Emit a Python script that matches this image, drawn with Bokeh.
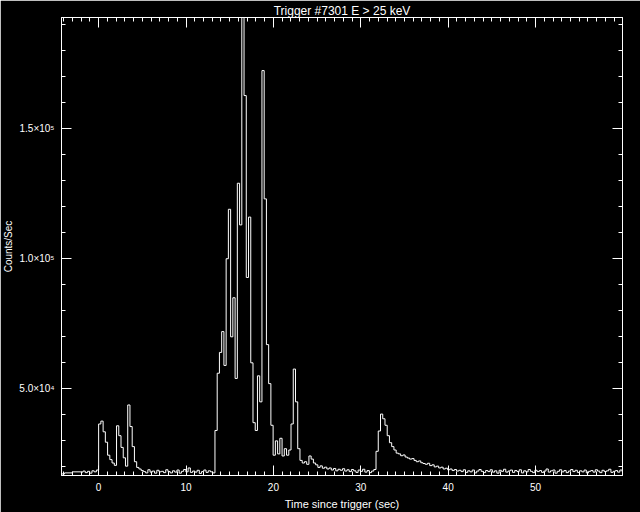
import numpy as np
from bokeh.plotting import figure
from bokeh.models import Range1d, LinearAxis, SingleIntervalTicker, CustomJSTickFormatter
from bokeh.embed import file_html
from bokeh.resources import INLINE

title_text = "Trigger #7301 E > 25 keV"
x_label = "Time since trigger (sec)"
y_label = "Counts/Sec"

# pre-trigger coarse bins (edges, counts/sec)
pre_edges = [-4.25, -3.9, -3.0, -2.048]
pre_counts = [17300, 17700, 18100]

# fine bins starting at -2.048 s, 0.256 s wide
fine_start = -2.048
bin_width = 0.256
fine_counts = [
    18000, 18400, 17800, 18300, 17600, 18500, 18100, 18800,
    36500, 37600, 33500, 29500, 24500, 22800, 21500, 20600, 35800, 32000,
    27500, 23500, 20300, 43800, 35500, 27800, 22000, 19800, 19200, 18600,
    18200, 17700, 18900, 18000, 18400, 17600, 18700, 18100, 18300, 17800,
    18900, 18200, 17700, 18500, 18000, 18800, 17600, 18300, 19000, 18100,
    19600, 17900, 18400, 18000, 18700, 17500, 18200, 18800, 17900, 18500,
    18100, 17700,
    34000, 56000, 64000, 72000, 59000, 100000, 119000, 70000, 85000, 54000,
    129000, 113000, 192700, 162700, 92800, 116000, 60000, 37000, 34000, 55000,
    45000, 172300, 123000, 67000, 52000, 36000, 24500, 30000, 25000, 31000,
    24200, 27000, 24500, 26500, 36500, 57600, 45000, 27000, 22500, 21500,
    22000, 21000, 24200, 23000, 21500, 20800, 19800, 20400, 19500, 19900,
    19200, 19600, 18800, 19400, 18500, 19100, 18700, 19300, 18400, 18900,
    18200, 19000, 18500, 17900, 18800, 18300, 19100, 18000, 18600, 17800,
    18400, 19000,
    26000, 33800, 40300, 38500, 36000, 32000, 29300, 27800, 26500, 25300,
    25000, 24300, 24600, 23800, 23400, 23000, 23200, 22500, 22000, 22300,
    21600, 21300, 21000, 21400, 20500, 20800, 20000, 20300, 19600, 19900,
    19200, 19500, 18900, 19200, 18600, 19000, 18400,
    18700, 18200, 18900, 17900, 18500, 18100, 18800, 17700, 18400, 19000,
    18300, 17800, 18600, 18200, 18900, 18000, 18500, 17600, 18700, 18300,
    19100, 18000, 18400, 18800, 17900, 18600, 18200, 18900, 17700, 18500,
    18100, 19000, 18300, 17800, 18700, 18200, 18600, 17900, 18400, 19200,
    18000, 18500, 18800, 17600, 18300, 18900, 18100, 18600, 17800, 18400,
    19000, 18200, 18700, 17900, 18500, 18100, 18800, 17700, 18300, 18600,
    18000, 18900, 18400, 17800, 18700, 18200, 18500, 19100, 17900, 18300,
    18600, 18000, 18800, 18200,
]

x_range = (-4.25, 59.95)
y_range = (16700, 192700)
y_tick_values = [50000, 100000, 150000]
y_tick_labels = ["5.0×10⁴", "1.0×10⁵", "1.5×10⁵"]

fine_edges = fine_start + bin_width * np.arange(len(fine_counts) + 1)
xs = list(pre_edges[:-1]) + list(fine_edges)
ys = list(pre_counts) + list(fine_counts) + [fine_counts[-1]]

FONT = "Liberation Sans"
WHITE = "white"

p = figure(width=640, height=512, output_backend="svg", toolbar_location=None,
           x_range=Range1d(*x_range), y_range=Range1d(*y_range),
           min_border_left=61, min_border_right=18, min_border_top=17, min_border_bottom=37,
           background_fill_color="black", border_fill_color="black",
           x_axis_location=None, y_axis_location=None)
p.outline_line_color = WHITE
p.outline_line_width = 1
p.xgrid.visible = False
p.ygrid.visible = False

def style_axis(ax, show_labels):
    ax.axis_line_color = WHITE
    ax.major_tick_line_color = WHITE
    ax.minor_tick_line_color = WHITE
    ax.major_tick_in = 10
    ax.major_tick_out = 0
    ax.minor_tick_in = 4
    ax.minor_tick_out = 0
    ax.major_label_text_color = WHITE
    ax.major_label_text_font = FONT
    ax.axis_label_text_color = WHITE
    ax.axis_label_text_font = FONT
    ax.axis_label_text_font_style = "normal"
    if show_labels:
        ax.major_label_text_font_size = "10px"
    else:
        ax.formatter = CustomJSTickFormatter(code="return ''")
        ax.major_label_text_font_size = "1px"
        ax.major_label_standoff = 0

xb = LinearAxis(ticker=SingleIntervalTicker(interval=10, num_minor_ticks=10))
style_axis(xb, True)
xb.major_label_standoff = 7
xb.axis_label = x_label
xb.axis_label_text_font_size = "11px"
xb.axis_label_standoff = 4

xt = LinearAxis(ticker=SingleIntervalTicker(interval=10, num_minor_ticks=10))
style_axis(xt, False)
xt.axis_label = title_text
xt.axis_label_text_font_size = "12px"
xt.axis_label_standoff = 0

yl = LinearAxis(ticker=SingleIntervalTicker(interval=50000, num_minor_ticks=5))
style_axis(yl, True)
yl.major_label_standoff = 7
yl.major_label_overrides = {v: s for v, s in zip(y_tick_values, y_tick_labels)}
yl.axis_label = y_label
yl.axis_label_text_font_size = "10px"
yl.axis_label_standoff = 2

yr = LinearAxis(ticker=SingleIntervalTicker(interval=50000, num_minor_ticks=5))
style_axis(yr, False)

p.add_layout(xb, "below")
p.add_layout(xt, "above")
p.add_layout(yl, "left")
p.add_layout(yr, "right")

p.step(xs, ys, mode="after", line_color=WHITE, line_width=1)

open("out.html", "w").write(file_html(p, INLINE))
